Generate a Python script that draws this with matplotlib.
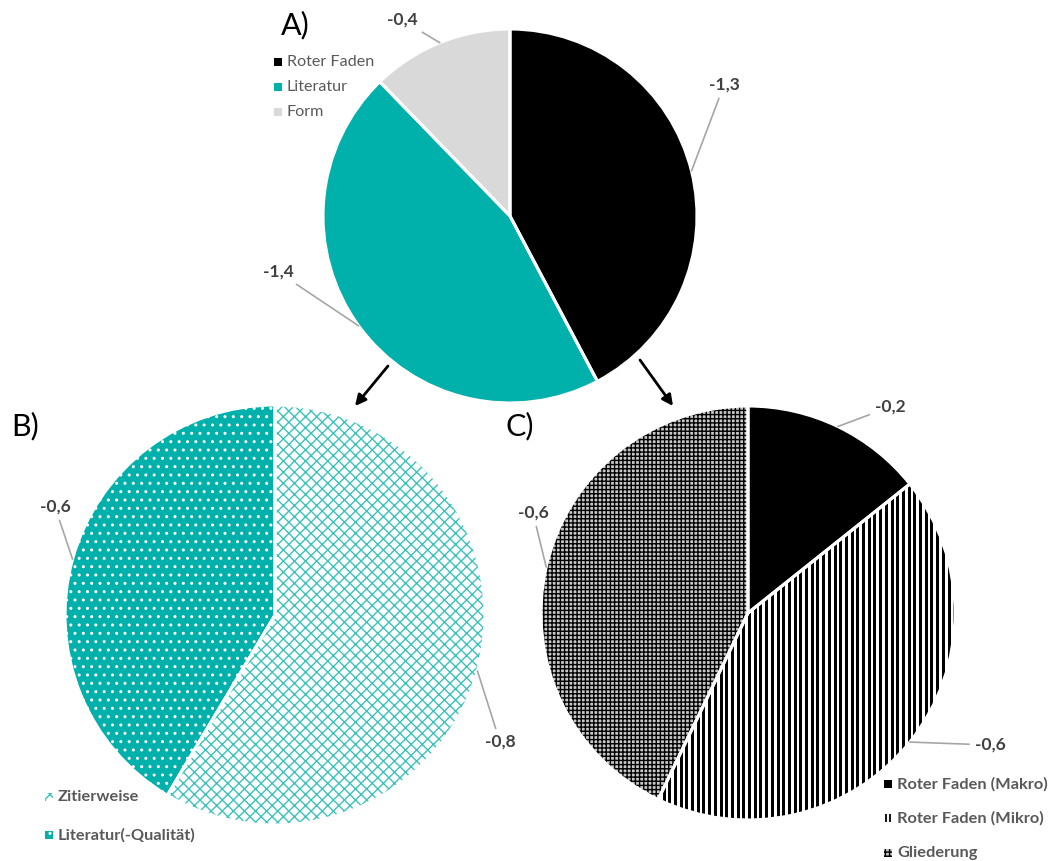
import matplotlib
matplotlib.use("Agg")
import matplotlib.pyplot as plt
from matplotlib.patches import Rectangle
import numpy as np

# ---------------- data ----------------
cats_A = ["Roter Faden", "Literatur", "Form"]
vals_A = [1.31, 1.41, 0.38]
labels_A = ["-1,3", "-1,4", "-0,4"]

cats_B = ["Zitierweise", "Literatur(-Qualität)"]
vals_B = [0.82, 0.58]
labels_B = ["-0,8", "-0,6"]

cats_C = ["Roter Faden (Makro)", "Roter Faden (Mikro)", "Gliederung"]
vals_C = [0.2, 0.6, 0.6]
labels_C = ["-0,2", "-0,6", "-0,6"]

# ---------------- style ----------------
TEAL = "#00B0AA"
W, H = 1052, 861
plt.rcParams['font.family'] = ['Lato', 'DejaVu Sans']
plt.rcParams['hatch.linewidth'] = 1.0

fig = plt.figure(figsize=(W / 100, H / 100), dpi=100)
ax = fig.add_axes([0, 0, 1, 1])

def Y(y):
    return H - y

# (face, hatch, hatchcolor, stripes)
style_A = [("black", None, "black", False), (TEAL, None, TEAL, False), ("#D9D9D9", None, "#D9D9D9", False)]
style_B = [("white", "xxx", "#3CC2BC", False), (TEAL, "..", "white", False)]
style_C = [("black", None, "black", False), ("white", None, "black", True), ("#C8C8C8", "++++", "black", False)]


def add_stripes(patch, x0, x1, y0, y1, period=5.7, lw=2.15):
    xs = np.arange(x0 + period / 2, x1, period)
    lc = ax.vlines(xs, y0, y1, colors="black", linewidths=lw, zorder=2)
    lc.set_clip_path(patch)


def draw_pie(vals, center, radius, styles):
    wedges, _ = ax.pie(vals, radius=radius, center=center, startangle=90,
                       counterclock=False, wedgeprops=dict(linewidth=0))
    for w, (fc, hatch, hc, stripes) in zip(wedges, styles):
        w.set_facecolor(fc)
        w.set_edgecolor(hc)
        w.set_linewidth(0)
        if hatch:
            w.set_hatch(hatch)
        if stripes:
            add_stripes(w, center[0] - radius, center[0] + radius,
                        center[1] - radius, center[1] + radius)
    ax.pie(vals, radius=radius, center=center, startangle=90, counterclock=False,
           wedgeprops=dict(facecolor="none", edgecolor="white", linewidth=2.2, zorder=3))
    return wedges


def label_wedges(wedges, labels, positions, center, radius):
    for w, lab, pos in zip(wedges, labels, positions):
        mid = np.deg2rad((w.theta1 + w.theta2) / 2)
        pt = (center[0] + radius * np.cos(mid), center[1] + radius * np.sin(mid))
        ax.annotate(lab, xy=pt, xytext=(pos[0], Y(pos[1])), ha="center", va="center",
                    fontsize=12.5, fontweight="bold", color="#404040", zorder=4,
                    arrowprops=dict(arrowstyle="-", color="#A6A6A6", lw=1.2,
                                    shrinkA=2, shrinkB=0))


def legend(cats, styles, x, ys, bold, size):
    for c, (fc, hatch, hc, stripes), y in zip(cats, styles, ys):
        r = Rectangle((x, Y(y) - 4), 8, 8, facecolor=fc, edgecolor=hc, linewidth=0)
        if hatch:
            r.set_hatch(hatch)
        ax.add_patch(r)
        if stripes:
            add_stripes(r, x, x + 8, Y(y) - 4, Y(y) + 4, period=4.0, lw=1.3)
        ax.text(x + 13, Y(y), c, ha="left", va="center", fontsize=size,
                fontweight="bold" if bold else "normal", color="#595959")


# ---- Pie A ----
cA, rA = (510, Y(216)), 187
wA = draw_pie(vals_A, cA, rA, style_A)
label_wedges(wA, labels_A, [(724, 85), (278, 272), (402, 20)], cA, rA)
legend(cats_A, style_A, 274, [62, 87, 112], False, 11.6)
ax.text(295, Y(25), "A)", ha="center", va="center", fontsize=22, color="black")

# ---- Pie B ----
cB, rB = (275, Y(615)), 210
wB = draw_pie(vals_B, cB, rB, style_B)
label_wedges(wB, labels_B, [(500, 742), (55, 507)], cB, rB)
legend(cats_B, style_B, 45, [797, 835], True, 11.8)

ax.text(25, Y(426), "B)", ha="center", va="center", fontsize=22, color="black")

# ---- Pie C ----
cC, rC = (748, Y(613)), 207
wC = draw_pie(vals_C, cC, rC, style_C)
label_wedges(wC, labels_C, [(890, 407), (990, 745), (533, 513)], cC, rC)
legend(cats_C, style_C, 884, [784, 818, 853], True, 11.8)
ax.text(520, Y(426), "C)", ha="center", va="center", fontsize=22, color="black")

# ---- arrows ----
for start, end in [((388, 366), (355, 406)), ((640, 360), (673, 406))]:
    ax.annotate("", xy=(end[0], Y(end[1])), xytext=(start[0], Y(start[1])),
                arrowprops=dict(arrowstyle="-|>", color="black", lw=2,
                                mutation_scale=16, shrinkA=0, shrinkB=0))

ax.set_xlim(0, W)
ax.set_ylim(0, H)
ax.set_axis_off()
fig.savefig("out.png", dpi=100)
